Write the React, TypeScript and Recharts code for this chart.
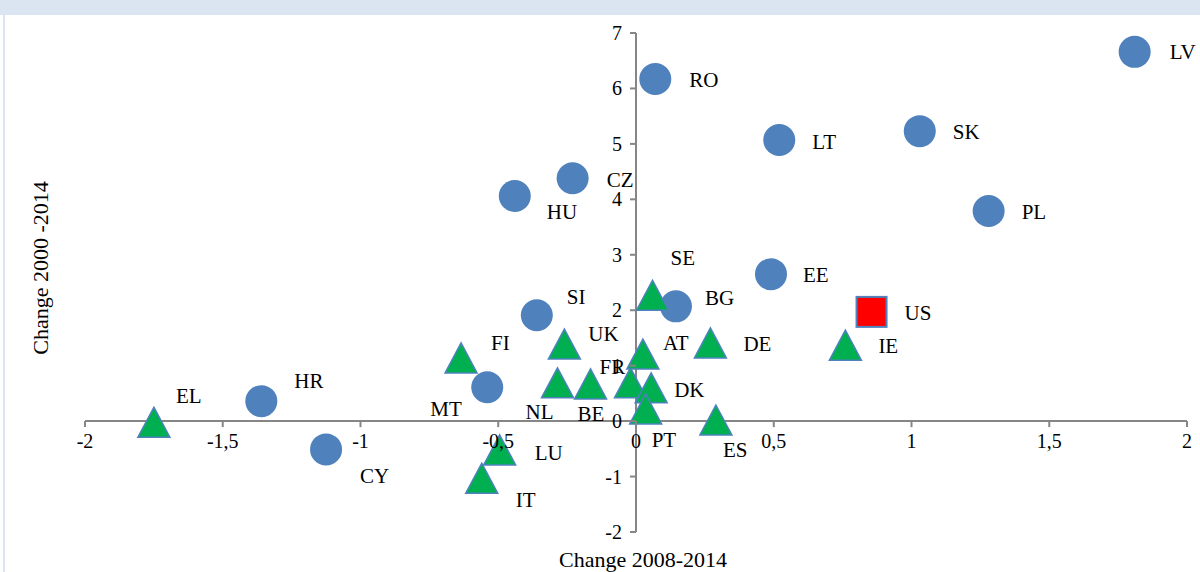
import React from 'react';
import { ScatterChart, Scatter, XAxis, YAxis, ReferenceLine } from 'recharts';

// Change in rate, 2008-2014 (x) against 2000-2014 (y)
const circlePoints = [
  { code: 'LV', x: 1.81, y: 6.66 },
  { code: 'RO', x: 0.07, y: 6.17 },
  { code: 'LT', x: 0.52, y: 5.07 },
  { code: 'SK', x: 1.03, y: 5.23 },
  { code: 'PL', x: 1.28, y: 3.79 },
  { code: 'CZ', x: -0.23, y: 4.38 },
  { code: 'HU', x: -0.44, y: 4.06 },
  { code: 'EE', x: 0.49, y: 2.65 },
  { code: 'BG', x: 0.145, y: 2.07 },
  { code: 'SI', x: -0.36, y: 1.91 },
  { code: 'MT', x: -0.54, y: 0.61 },
  { code: 'HR', x: -1.36, y: 0.36 },
  { code: 'CY', x: -1.125, y: -0.51 },
];

const trianglePoints = [
  { code: 'EL', x: -1.75, y: -0.02 },
  { code: 'FI', x: -0.635, y: 1.14 },
  { code: 'UK', x: -0.26, y: 1.39 },
  { code: 'NL', x: -0.285, y: 0.69 },
  { code: 'BE', x: -0.165, y: 0.67 },
  { code: 'FR', x: -0.02, y: 0.69 },
  { code: 'AT', x: 0.025, y: 1.21 },
  { code: 'DK', x: 0.055, y: 0.6 },
  { code: 'PT', x: 0.035, y: 0.22 },
  { code: 'SE', x: 0.06, y: 2.27 },
  { code: 'DE', x: 0.27, y: 1.41 },
  { code: 'ES', x: 0.29, y: 0.02 },
  { code: 'IE', x: 0.76, y: 1.37 },
  { code: 'LU', x: -0.495, y: -0.52 },
  { code: 'IT', x: -0.56, y: -1.03 },
];

const usPoint = [{ code: 'US', x: 0.855, y: 1.97 }];

const xTicks = [-2, -1.5, -1, -0.5, 0, 0.5, 1, 1.5, 2];
const yTicks = [-2, -1, 0, 1, 2, 3, 4, 5, 6, 7];

// label placement relative to the marker centre (left edge of text, vertical middle)
const LABEL_OFFSETS: Record<string, [number, number]> = {
  LV: [35, 0], RO: [34, 1], LT: [33, 2], SK: [33, 1], PL: [33, 1],
  CZ: [34, 2], HU: [32, 16], EE: [32, 1], BG: [29, -8], SI: [30, -18],
  MT: [-57, 22], HR: [33, -20], CY: [34, 27], EL: [22, -26], FI: [30, -15],
  UK: [24, -10], NL: [-32, 29], BE: [-13, 30], FR: [-31, -16], AT: [20, -11],
  DK: [23, 2], PT: [6, 31], SE: [18, -37], DE: [33, 1], ES: [7, 30],
  IE: [33, 1], LU: [35, 3], IT: [34, 22], US: [33, 1],
};

const WIDTH = 1200;
const HEIGHT = 572;
const MARGIN = { top: 33, right: 13, bottom: 39, left: 84 };
const AXIS_SIZE = 1;
const PLOT_LEFT = MARGIN.left + AXIS_SIZE;
const PLOT_W = WIDTH - PLOT_LEFT - MARGIN.right;
const PLOT_H = HEIGHT - MARGIN.top - MARGIN.bottom - AXIS_SIZE;
const ZERO_X = PLOT_LEFT + PLOT_W * (0 - -2) / 4;
const ZERO_Y = MARGIN.top + PLOT_H * (7 - 0) / 9;

const AXIS = '#868686';
const FONT = '"Liberation Serif", "Times New Roman", serif';
const BLUE = '#4f81bd';
const GREEN = '#00b050';

const fmt = (v: number) => String(v).replace('.', ',');

const PointLabel = ({ cx, cy, code }: { cx: number; cy: number; code: string }) => {
  const [dx, dy] = LABEL_OFFSETS[code] || [30, 0];
  return (
    <text x={cx + dx} y={cy + dy} dominantBaseline="central" fontFamily={FONT} fontSize={21} fill="#000">
      {code}
    </text>
  );
};

const CircleShape = (props: any) => {
  const { cx, cy, payload } = props;
  return (
    <g>
      <circle cx={cx} cy={cy} r={16} fill={BLUE} />
      <PointLabel cx={cx} cy={cy} code={payload.code} />
    </g>
  );
};

const TriangleShape = (props: any) => {
  const { cx, cy, payload } = props;
  const w = 32;
  const h = 30;
  const d = `M${cx},${cy - h / 2} L${cx + w / 2},${cy + h / 2} L${cx - w / 2},${cy + h / 2} Z`;
  return (
    <g>
      <path d={d} fill={GREEN} stroke={BLUE} strokeWidth={1.5} />
      <PointLabel cx={cx} cy={cy} code={payload.code} />
    </g>
  );
};

const SquareShape = (props: any) => {
  const { cx, cy, payload } = props;
  return (
    <g>
      <rect x={cx - 15} y={cy - 15} width={30} height={30} fill="#ff0000" stroke={BLUE} strokeWidth={2} />
      <PointLabel cx={cx} cy={cy} code={payload.code} />
    </g>
  );
};

// axes cross at the origin, so ticks are drawn on the zero lines
const XTick = (props: any) => {
  const { x, payload } = props;
  return (
    <g>
      <line x1={x} x2={x} y1={ZERO_Y} y2={ZERO_Y + 6} stroke={AXIS} strokeWidth={2} />
      <text x={x} y={ZERO_Y + 27} textAnchor="middle" fontFamily={FONT} fontSize={20} fill="#000">
        {fmt(payload.value)}
      </text>
    </g>
  );
};

const YTick = (props: any) => {
  const { y, payload } = props;
  return (
    <g>
      <line x1={ZERO_X - 6} x2={ZERO_X} y1={y} y2={y} stroke={AXIS} strokeWidth={2} />
      <text x={ZERO_X - 14} y={y} textAnchor="end" dominantBaseline="central" fontFamily={FONT} fontSize={20} fill="#000">
        {fmt(payload.value)}
      </text>
    </g>
  );
};

export default function App() {
  return (
    <div style={{ position: 'absolute', left: 0, top: 0, width: WIDTH, height: HEIGHT, background: '#fff', overflow: 'hidden' }}>
      <div style={{ position: 'absolute', left: 0, top: 0, width: WIDTH, height: 15, background: '#dbe5f1' }} />
      <div style={{ position: 'absolute', left: 3, top: 15, width: 2, height: HEIGHT - 15, background: '#dbe5f1' }} />
      <ScatterChart width={WIDTH} height={HEIGHT} margin={MARGIN}>
        <XAxis
          type="number"
          dataKey="x"
          domain={[-2, 2]}
          ticks={xTicks}
          interval={0}
          height={AXIS_SIZE}
          axisLine={false}
          tickLine={false}
          tick={<XTick />}
        />
        <YAxis
          type="number"
          dataKey="y"
          domain={[-2, 7]}
          ticks={yTicks}
          interval={0}
          width={AXIS_SIZE}
          axisLine={false}
          tickLine={false}
          tick={<YTick />}
        />
        <ReferenceLine y={0} stroke={AXIS} strokeWidth={2} />
        <ReferenceLine x={0} stroke={AXIS} strokeWidth={2} />
        <Scatter data={circlePoints} shape={CircleShape} isAnimationActive={false} />
        <Scatter data={trianglePoints} shape={TriangleShape} isAnimationActive={false} />
        <Scatter data={usPoint} shape={SquareShape} isAnimationActive={false} />
      </ScatterChart>
      <div style={{ position: 'absolute', left: 443, width: 400, top: 547, textAlign: 'center', fontFamily: FONT, fontSize: 22, lineHeight: '26px', color: '#000' }}>
        Change 2008-2014
      </div>
      <div
        style={{
          position: 'absolute', left: 41, top: 268, width: 300, marginLeft: -150, marginTop: -13,
          transform: 'rotate(-90deg)', textAlign: 'center', fontFamily: FONT, fontSize: 22, lineHeight: '26px', color: '#000',
        }}
      >
        Change 2000 -2014
      </div>
    </div>
  );
}
